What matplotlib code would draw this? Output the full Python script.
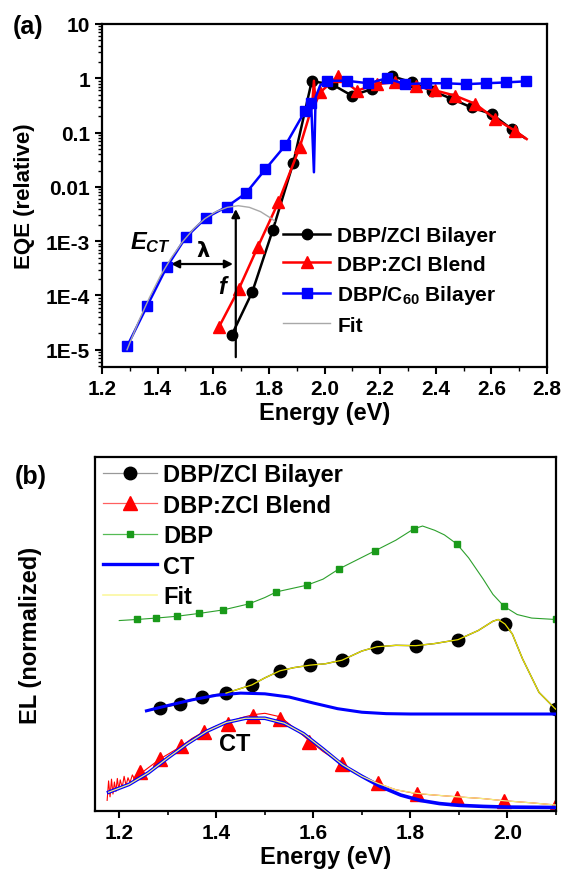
import matplotlib
matplotlib.use("Agg")
import matplotlib.pyplot as plt
from matplotlib.lines import Line2D
from matplotlib.ticker import LogLocator, MultipleLocator, NullFormatter

plt.rcParams["font.family"] = ["Liberation Sans", "DejaVu Sans"]
plt.rcParams["font.weight"] = "bold"
plt.rcParams["mathtext.fontset"] = "custom"
plt.rcParams["mathtext.it"] = "Liberation Sans:italic:bold"
plt.rcParams["mathtext.rm"] = "Liberation Sans:bold"

# ---------------- panel (a): EQE ----------------
c60_e = [1.290, 1.362, 1.432, 1.501, 1.574, 1.648, 1.717, 1.787, 1.859, 1.930, 1.952,
         2.008, 2.080, 2.158, 2.224, 2.290, 2.364, 2.436, 2.508, 2.580, 2.652, 2.724]
c60_q = [1.15e-5, 6.4e-5, 3.3e-4, 1.17e-3, 2.7e-3, 4.3e-3, 7.6e-3, 2.1e-2, 5.8e-2, 0.25, 0.35,
         0.90, 0.90, 0.81, 1.0, 0.78, 0.81, 0.81, 0.78, 0.81, 0.84, 0.88]
c60_line_e = [1.290, 1.362, 1.432, 1.501, 1.574, 1.648, 1.717, 1.787, 1.859, 1.930, 1.952,
              1.962, 1.968, 1.985, 2.008, 2.080, 2.158, 2.224, 2.290, 2.364, 2.436, 2.508,
              2.580, 2.652, 2.724]
c60_line_q = [1.15e-5, 6.4e-5, 3.3e-4, 1.17e-3, 2.7e-3, 4.3e-3, 7.6e-3, 2.1e-2, 5.8e-2, 0.25, 0.35,
              0.0186, 0.45, 0.75, 0.90, 0.90, 0.81, 1.0, 0.78, 0.81, 0.81, 0.78, 0.81, 0.84, 0.88]

bil_e = [1.666, 1.740, 1.814, 1.888, 1.954, 2.026, 2.098, 2.170, 2.242, 2.314, 2.386,
         2.457, 2.529, 2.601, 2.673]
bil_q = [1.85e-5, 1.15e-4, 1.6e-3, 0.028, 0.88, 0.78, 0.48, 0.63, 1.1, 0.84, 0.59,
         0.42, 0.29, 0.22, 0.116]
bil_line_e = bil_e + [2.720]
bil_line_q = bil_q + [0.08]

bl_e = [1.620, 1.692, 1.760, 1.834, 1.911, 1.984, 2.050, 2.116, 2.188, 2.254, 2.330,
        2.397, 2.469, 2.541, 2.613, 2.685]
bl_q = [2.6e-5, 1.32e-4, 7.8e-4, 5.2e-3, 0.054, 0.55, 1.1, 0.59, 0.78, 0.85, 0.72,
        0.60, 0.48, 0.34, 0.18, 0.108]
bl_line_e = [1.620, 1.692, 1.760, 1.834, 1.911, 1.955, 1.962, 1.968, 1.984, 2.050, 2.116,
             2.188, 2.254, 2.330, 2.397, 2.469, 2.541, 2.613, 2.685, 2.727]
bl_line_q = [2.6e-5, 1.32e-4, 7.8e-4, 5.2e-3, 0.054, 0.3, 0.9, 0.35, 0.55, 1.1, 0.59,
             0.78, 0.85, 0.72, 0.60, 0.48, 0.34, 0.18, 0.108, 0.076]

fit_e = [1.29, 1.33, 1.37, 1.41, 1.45, 1.49, 1.53, 1.57, 1.61, 1.65, 1.69, 1.73, 1.77, 1.81, 1.82]
fit_q = [1.0e-5, 3.2e-5, 9.0e-5, 2.3e-4, 5.0e-4, 9.8e-4, 1.7e-3, 2.6e-3, 3.5e-3, 4.2e-3,
         4.5e-3, 4.2e-3, 3.5e-3, 2.6e-3, 2.35e-3]

a_yticks = [1e-5, 1e-4, 1e-3, 1e-2, 1e-1, 1, 10]
a_ylabels = ["1E-5", "1E-4", "1E-3", "0.01", "0.1", "1", "10"]

# ---------------- panel (b): EL (normalized) ----------------
dbp_e = [1.236, 1.276, 1.318, 1.364, 1.414, 1.467, 1.524, 1.587, 1.653, 1.727, 1.807,
         1.896, 1.993, 2.099]
dbp_y = [0.541, 0.545, 0.550, 0.558, 0.568, 0.585, 0.619, 0.638, 0.684, 0.735, 0.797,
         0.754, 0.578, 0.541]
dbp_line_e = [1.200, 1.236, 1.276, 1.318, 1.364, 1.414, 1.467, 1.50, 1.524, 1.587, 1.62,
              1.653, 1.727, 1.77, 1.807, 1.825, 1.85, 1.87, 1.896, 1.92, 1.95, 1.97, 1.993,
              2.02, 2.05, 2.099]
dbp_line_y = [0.538, 0.541, 0.545, 0.550, 0.558, 0.568, 0.585, 0.603, 0.619, 0.638, 0.655,
              0.684, 0.735, 0.765, 0.797, 0.805, 0.793, 0.780, 0.754, 0.715, 0.655, 0.612,
              0.578, 0.555, 0.545, 0.541]

zcl_bil_e = [1.283, 1.326, 1.371, 1.420, 1.473, 1.531, 1.593, 1.659, 1.731, 1.811, 1.898,
             1.995, 2.099]
zcl_bil_y = [0.290, 0.303, 0.322, 0.333, 0.356, 0.396, 0.412, 0.426, 0.464, 0.467, 0.484,
             0.528, 0.288]
zcl_bil_line_e = [1.256, 1.283, 1.326, 1.371, 1.420, 1.473, 1.50, 1.531, 1.56, 1.593, 1.625,
                  1.659, 1.70, 1.731, 1.77, 1.811, 1.85, 1.898, 1.94, 1.97, 1.981, 1.995,
                  2.01, 2.031, 2.065, 2.099]
zcl_bil_line_y = [0.283, 0.290, 0.303, 0.322, 0.333, 0.356, 0.376, 0.396, 0.405, 0.412, 0.416,
                  0.426, 0.452, 0.464, 0.468, 0.467, 0.473, 0.484, 0.510, 0.536, 0.541, 0.528,
                  0.50, 0.43, 0.335, 0.288]

blend_e = [1.243, 1.284, 1.328, 1.374, 1.424, 1.476, 1.532, 1.592, 1.659, 1.733, 1.813,
           1.897, 1.993, 2.099]
blend_y = [0.111, 0.147, 0.183, 0.224, 0.247, 0.267, 0.259, 0.196, 0.133, 0.078, 0.049,
           0.037, 0.028, 0.016]
blend_line_e = [1.175, 1.178, 1.181, 1.184, 1.187, 1.190, 1.193, 1.196, 1.199, 1.202, 1.206,
                1.210, 1.214, 1.218, 1.222, 1.227, 1.232, 1.238, 1.243, 1.25, 1.284, 1.30,
                1.328, 1.35, 1.374, 1.40, 1.424, 1.45, 1.476, 1.50, 1.532, 1.56, 1.592, 1.62,
                1.659, 1.70, 1.733, 1.77, 1.813, 1.85, 1.897, 1.95, 1.993, 2.05, 2.099]
blend_line_y = [0.030, 0.085, 0.040, 0.090, 0.048, 0.082, 0.055, 0.092, 0.060, 0.088, 0.066,
                0.098, 0.072, 0.094, 0.080, 0.102, 0.088, 0.106, 0.100, 0.112, 0.147, 0.160,
                0.183, 0.205, 0.224, 0.240, 0.250, 0.263, 0.272, 0.276, 0.266, 0.235, 0.198,
                0.168, 0.133, 0.098, 0.078, 0.060, 0.049, 0.045, 0.040, 0.035, 0.029, 0.023,
                0.017]

ct_low_e = [1.178, 1.22, 1.26, 1.30, 1.34, 1.38, 1.42, 1.46, 1.50, 1.54, 1.58, 1.62, 1.66,
            1.70, 1.74, 1.78, 1.82, 1.86, 1.90, 1.95, 2.00, 2.10]
ct_low_y = [0.053, 0.075, 0.108, 0.150, 0.190, 0.225, 0.250, 0.262, 0.262, 0.248, 0.218,
            0.175, 0.130, 0.098, 0.068, 0.045, 0.030, 0.021, 0.016, 0.013, 0.011, 0.010]
ct_up_e = [1.256, 1.30, 1.35, 1.40, 1.45, 1.50, 1.55, 1.60, 1.65, 1.70, 1.75, 1.80, 2.10]
ct_up_y = [0.283, 0.298, 0.314, 0.327, 0.333, 0.331, 0.322, 0.305, 0.289, 0.279, 0.275,
           0.274, 0.274]

fit_low_e = [1.178, 1.22, 1.26, 1.30, 1.34, 1.38, 1.42, 1.46, 1.50, 1.54, 1.58, 1.62, 1.66,
             1.70, 1.733, 1.77, 1.813, 1.85, 1.897, 1.95, 1.993, 2.05, 2.099]
fit_low_y = [0.053, 0.075, 0.108, 0.150, 0.190, 0.225, 0.250, 0.262, 0.262, 0.248, 0.218,
             0.175, 0.131, 0.098, 0.078, 0.060, 0.050, 0.045, 0.040, 0.035, 0.029, 0.023,
             0.017]
fit_up_e = [1.42, 1.473, 1.50, 1.531, 1.56, 1.593, 1.625, 1.659, 1.70, 1.731, 1.77, 1.811,
            1.85, 1.898, 1.94, 1.97, 1.981, 1.995, 2.01, 2.031, 2.065, 2.099]
fit_up_y = [0.333, 0.356, 0.376, 0.396, 0.405, 0.412, 0.416, 0.426, 0.452, 0.464, 0.468,
            0.467, 0.473, 0.484, 0.510, 0.536, 0.541, 0.528, 0.50, 0.43, 0.335, 0.288]


fig = plt.figure(figsize=(5.63, 8.79), dpi=100)

# ===== (a) =====
ax = fig.add_axes([102 / 563, 1 - 368 / 879, 445 / 563, 343 / 879])
ax.plot(bil_line_e, bil_line_q, color="black", lw=1.8, zorder=2)
ax.plot(bil_e, bil_q, "o", color="black", ms=7.5, zorder=2)
ax.plot(bl_line_e, bl_line_q, color="red", lw=1.8, zorder=3)
ax.plot(bl_e, bl_q, "^", color="red", ms=8.5, zorder=3)
ax.plot(c60_line_e, c60_line_q, color="blue", lw=1.8, zorder=4)
ax.plot(c60_e, c60_q, "s", color="blue", ms=7, zorder=4)
ax.plot(fit_e, fit_q, color="#a8a8a8", lw=1.0, zorder=5)

ax.set_yscale("log")
ax.set_xlim(1.2, 2.8)
ax.set_ylim(4.82e-6, 10)
ax.set_yticks(a_yticks)
ax.set_yticklabels(a_ylabels)
ax.yaxis.set_minor_locator(LogLocator(base=10, subs=range(2, 10), numticks=20))
ax.yaxis.set_minor_formatter(NullFormatter())
ax.xaxis.set_major_locator(MultipleLocator(0.2))
ax.xaxis.set_minor_locator(MultipleLocator(0.1))
ax.tick_params(which="major", direction="out", length=5, width=1.5, labelsize=15)
ax.tick_params(which="minor", direction="out", length=3, width=1.0)
for s in ax.spines.values():
    s.set_linewidth(1.6)
ax.set_xlabel("Energy (eV)", fontsize=17, fontweight="bold", labelpad=2)
ax.set_ylabel("EQE (relative)", fontsize=16, fontweight="bold")
ax.yaxis.set_label_coords(-0.15, 0.5)

# annotations for E_CT, lambda, f
ax.annotate("", xy=(1.681, 4.4e-3), xytext=(1.681, 6.5e-6),
            arrowprops=dict(arrowstyle="-|>", color="black", lw=1.6, mutation_scale=12))
ax.annotate("", xy=(1.438, 3.8e-4), xytext=(1.681, 3.8e-4),
            arrowprops=dict(arrowstyle="<|-|>", color="black", lw=1.6, mutation_scale=12))
ax.text(1.30, 1.0e-3, r"$\mathit{E}_{\mathit{CT}}$", fontsize=17, ha="left", va="center")
ax.text(1.565, 6.9e-4, r"$\mathbf{\lambda}$", fontsize=15, ha="center", va="center")
ax.text(1.63, 1.44e-4, "f", fontsize=17, style="italic", ha="center", va="center")

handles_a = [
    Line2D([], [], color="black", lw=1.8, marker="o", ms=7.5),
    Line2D([], [], color="red", lw=1.8, marker="^", ms=8.5),
    Line2D([], [], color="blue", lw=1.8, marker="s", ms=7),
    Line2D([], [], color="#a8a8a8", lw=1.0),
]
labels_a = ["DBP/ZCl Bilayer", "DBP:ZCl Blend", r"DBP/C$_{60}$ Bilayer", "Fit"]
ax.legend(handles_a, labels_a, loc="upper left", bbox_to_anchor=(0.407, 0.411),
          frameon=False, fontsize=15, borderpad=0, borderaxespad=0,
          handlelength=2.26, handletextpad=0.34, labelspacing=0.46)
fig.text(13 / 563, 1 - 27 / 879, "(a)", fontsize=18, fontweight="bold", va="center")

# ===== (b) =====
bx = fig.add_axes([95 / 563, 1 - 812 / 879, 461 / 563, 354 / 879])
bx.plot(dbp_line_e, dbp_line_y, color="#2ca02c", lw=0.8, zorder=2)
bx.plot(dbp_e, dbp_y, "s", color="#1a9a1a", ms=4.8, zorder=2)
bx.plot(zcl_bil_line_e, zcl_bil_line_y, color="#333333", lw=1.0, zorder=2)
bx.plot(zcl_bil_e, zcl_bil_y, "o", color="black", ms=9, zorder=3)
bx.plot(blend_line_e, blend_line_y, color="red", lw=0.8, zorder=2)
bx.plot(blend_e, blend_y, "^", color="red", ms=9.5, zorder=2)
bx.plot(ct_up_e, ct_up_y, color="blue", lw=2.2, zorder=4)
bx.plot(ct_low_e, ct_low_y, color="blue", lw=2.6, zorder=4)
bx.plot(fit_low_e, fit_low_y, color="#f2ee80", lw=0.9, zorder=5)
bx.plot(fit_up_e, fit_up_y, color="#e8e000", lw=0.9, zorder=5)

bx.set_xlim(1.15, 2.1)
bx.set_ylim(0, 1)
bx.set_yticks([])
bx.xaxis.set_major_locator(MultipleLocator(0.2))
bx.xaxis.set_minor_locator(MultipleLocator(0.1))
bx.tick_params(which="major", direction="out", length=5, width=1.5, labelsize=15)
bx.tick_params(which="minor", direction="out", length=3, width=1.2)
for s in bx.spines.values():
    s.set_linewidth(1.6)
bx.set_xlabel("Energy (eV)", fontsize=17, fontweight="bold", labelpad=2)
bx.set_ylabel("EL (normalized)", fontsize=17, fontweight="bold")
bx.yaxis.set_label_coords(-0.115, 0.5)
bx.text(1.438, 0.19, "CT", fontsize=17, fontweight="bold", ha="center", va="center")

handles_b = [
    Line2D([], [], color="#999999", lw=0.9, marker="o", mfc="black", mec="black", ms=9),
    Line2D([], [], color="#ff6060", lw=0.9, marker="^", mfc="red", mec="red", ms=9.5),
    Line2D([], [], color="#55bb55", lw=0.9, marker="s", mfc="#1a9a1a", mec="#1a9a1a", ms=4.8),
    Line2D([], [], color="blue", lw=2.4),
    Line2D([], [], color="#fbf7a0", lw=1.2),
]
labels_b = ["DBP/ZCl Bilayer", "DBP:ZCl Blend", "DBP", "CT", "Fit"]
bx.legend(handles_b, labels_b, loc="upper left", bbox_to_anchor=(0.017, 0.983),
          frameon=False, fontsize=17, borderpad=0, borderaxespad=0,
          handlelength=2.3, handletextpad=0.25, labelspacing=0.32)
fig.text(15 / 563, 1 - 477 / 879, "(b)", fontsize=18, fontweight="bold", va="center")

fig.savefig("out.png", dpi=100)
